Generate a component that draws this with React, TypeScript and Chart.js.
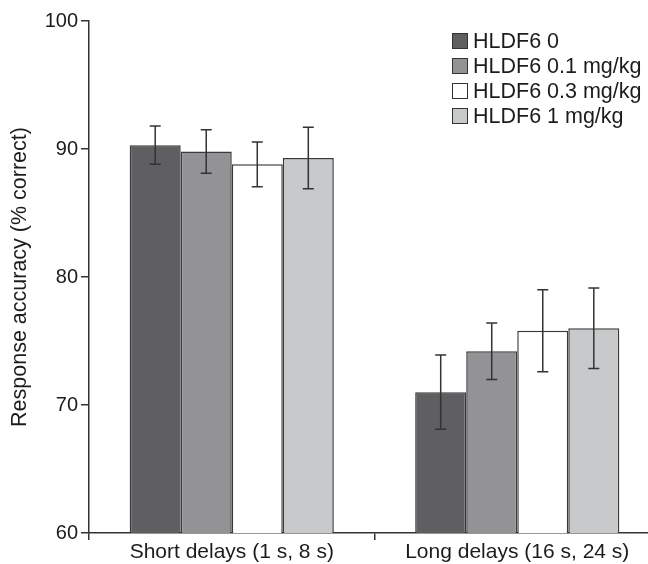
import React, { useEffect, useRef } from 'react';
import { Chart, registerables } from 'chart.js';

Chart.register(...registerables);

const categories = ['Short delays (1 s, 8 s)', 'Long delays (16 s, 24 s)'];
const seriesLabels = ['HLDF6 0', 'HLDF6 0.1 mg/kg', 'HLDF6 0.3 mg/kg', 'HLDF6 1 mg/kg'];

const dose0 = [90.3, 71.0];
const dose01 = [89.8, 74.2];
const dose03 = [88.8, 75.8];
const dose1 = [89.3, 76.0];

const err0 = [1.5, 2.9];
const err01 = [1.7, 2.2];
const err03 = [1.75, 3.2];
const err1 = [2.4, 3.15];

const yTicks = [60, 70, 80, 90, 100];

const seriesValues = [dose0, dose01, dose03, dose1];
const seriesErrors = [err0, err01, err03, err1];
const seriesColors = ['#5f5f61', '#939396', '#ffffff', '#c8c9cb'];

const FONT = '"Liberation Sans", Arial, Helvetica, sans-serif';
const TEXT = '#1c1c1c';
const LINE = '#333333';

const errorBarPlugin = {
  id: 'errorBars',
  afterDatasetsDraw(chart: any) {
    const ctx = chart.ctx;
    const yScale = chart.scales.y;
    ctx.save();
    ctx.strokeStyle = LINE;
    ctx.lineWidth = 1.5;
    chart.data.datasets.forEach((ds: any, i: number) => {
      const meta = chart.getDatasetMeta(i);
      meta.data.forEach((el: any, j: number) => {
        const v = ds.data[j];
        const e = ds.errors[j];
        const x = el.x;
        const yt = yScale.getPixelForValue(v + e);
        const yb = yScale.getPixelForValue(v - e);
        const cap = 5.5;
        ctx.beginPath();
        ctx.moveTo(x, yt);
        ctx.lineTo(x, yb);
        ctx.moveTo(x - cap, yt);
        ctx.lineTo(x + cap, yt);
        ctx.moveTo(x - cap, yb);
        ctx.lineTo(x + cap, yb);
        ctx.stroke();
      });
    });
    ctx.restore();
  },
};

const legendPlugin = {
  id: 'boxLegend',
  afterDraw(chart: any) {
    const ctx = chart.ctx;
    ctx.save();
    ctx.font = `21.5px ${FONT}`;
    ctx.textBaseline = 'middle';
    ctx.textAlign = 'left';
    chart.data.datasets.forEach((ds: any, i: number) => {
      const cy = 41 + i * 25;
      ctx.fillStyle = ds.backgroundColor;
      ctx.fillRect(452, cy - 8, 16, 16);
      ctx.strokeStyle = LINE;
      ctx.lineWidth = 1;
      ctx.strokeRect(452.5, cy - 7.5, 15, 15);
      ctx.fillStyle = TEXT;
      ctx.fillText(ds.label, 473, cy + 1);
    });
    ctx.restore();
  },
};

export default function App() {
  const ref = useRef<HTMLCanvasElement>(null);

  useEffect(() => {
    if (!ref.current) return;
    const chart = new Chart(ref.current, {
      type: 'bar',
      data: {
        labels: categories,
        datasets: seriesLabels.map((label, i) => ({
          label,
          data: seriesValues[i],
          errors: seriesErrors[i],
          backgroundColor: seriesColors[i],
          borderColor: '#3a3a3a',
          borderWidth: 1.5,
          borderSkipped: 'bottom',
          barPercentage: 1.0,
          categoryPercentage: 0.715,
        })) as any,
      },
      options: {
        responsive: false,
        animation: false,
        devicePixelRatio: 1,
        layout: { padding: { top: 21, right: 0, left: 0, bottom: 0 } },
        plugins: {
          legend: { display: false },
          tooltip: { enabled: false },
        },
        scales: {
          x: {
            offset: true,
            grid: {
              display: true,
              drawOnChartArea: false,
              drawTicks: true,
              tickLength: 7,
              offset: true,
              color: LINE,
              lineWidth: 1.5,
            },
            border: { display: true, color: LINE, width: 1.5 },
            ticks: {
              color: TEXT,
              font: { family: FONT, size: 21 },
              padding: 0,
              maxRotation: 0,
              minRotation: 0,
              autoSkip: false,
            },
            afterFit: (s: any) => {
              s.height = 31;
            },
          },
          y: {
            min: 60,
            max: 100,
            afterBuildTicks: (s: any) => {
              s.ticks = yTicks.map((v) => ({ value: v }));
            },
            ticks: {
              color: TEXT,
              font: { family: FONT, size: 20 },
              padding: 3,
            },
            grid: {
              display: true,
              drawOnChartArea: false,
              drawTicks: true,
              tickLength: 8,
              color: LINE,
              lineWidth: 1.5,
            },
            border: { display: true, color: LINE, width: 1.5 },
            title: {
              display: true,
              text: 'Response accuracy (% correct)',
              color: TEXT,
              font: { family: FONT, size: 21.5 },
              padding: { top: 7.5, bottom: 0 },
            },
            afterFit: (s: any) => {
              s.width = 89;
            },
          },
        },
      } as any,
      plugins: [errorBarPlugin, legendPlugin],
    });
    return () => chart.destroy();
  }, []);

  return (
    <div
      style={{
        position: 'absolute',
        left: 0,
        top: 0,
        width: 648,
        height: 564,
        overflow: 'hidden',
        background: '#ffffff',
      }}
    >
      <canvas ref={ref} width={660} height={564} style={{ display: 'block' }} />
    </div>
  );
}
